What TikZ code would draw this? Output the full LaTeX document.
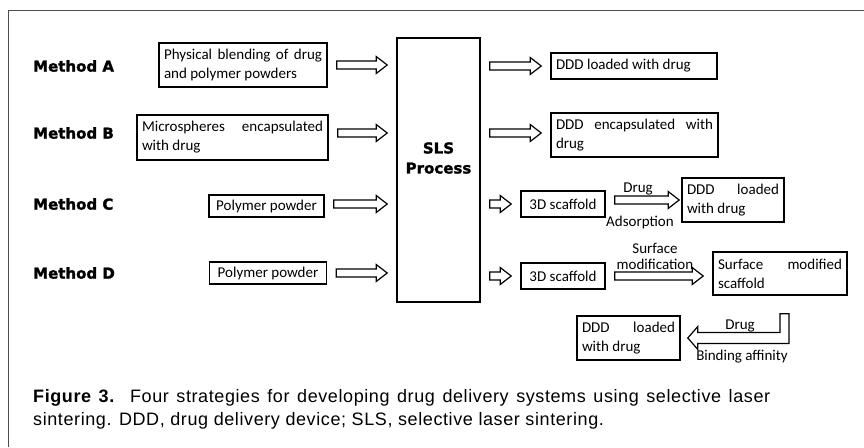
\documentclass[tikz,border=0pt]{standalone}
\usepackage{fontspec}
\setmainfont{Carlito}
\newfontfamily\headfont[BoldFeatures={FakeBold=1.6}]{DejaVu Sans}
\newfontfamily\capfont[LetterSpace=3.3]{Liberation Sans}
\usetikzlibrary{calc,positioning}
\hyphenpenalty=10000
\tolerance=9999
\hbadness=10000
\newcommand{\fat}[4][4]{%
  \draw[hollow] let \p1=#2, \p2=#3, \p3=#4 in
    (\x1+9pt,\y3+#1pt) -- (\x2-20pt,\y3+#1pt) -- (\x2-20pt,\y3+8.5pt) -- (\x2-9pt,\y3)
    -- (\x2-20pt,\y3-8.5pt) -- (\x2-20pt,\y3-#1pt) -- (\x1+9pt,\y3-#1pt) -- cycle;}
\begin{document}
\begin{tikzpicture}[x=1pt,y=-1pt,
        box/.style={draw, line width=1.6pt, inner xsep=5pt, inner ysep=2pt, align=justify,
            font=\fontsize{15}{19}\selectfont},
        onebox/.style={box, align=center, inner xsep=4pt},
        method/.style={anchor=west, inner sep=0pt, font=\headfont\bfseries\fontsize{15}{18}\selectfont},
        hollow/.style={draw, line width=1.2pt, line join=miter},
        tag/.style={font=\fontsize{15}{16}\selectfont, inner sep=1pt},
        ]
        \useasboundingbox (0,0) rectangle (864,447);
        \draw[gray!60!black, line width=0.9pt] (8,447) -- (8,10) -- (864,10);

        \node[method] (mA) at (33,66) {Method A};
        \node[method] (mB) at (33,133) {Method B};
        \node[method] (mC) at (33,204) {Method C};
        \node[method] (mD) at (33,273) {Method D};

        \node[box, text width=158, minimum height=44] (inA) at (243,65) {Physical blending of drug and polymer powders};
        \node[box, text width=181, minimum height=45] (inB) at (232.5,137.5) {Microspheres encapsulated with drug};
        \node[onebox, minimum width=115, minimum height=22] (inC) at (266.5,206) {Polymer powder};
        \node[onebox, minimum width=117, minimum height=22] (inD) at (268,273) {Polymer powder};

        \node[draw, line width=1.6pt, minimum width=83, minimum height=264,
            label={[font=\headfont\bfseries\fontsize{15}{20}\selectfont, align=center, yshift=12]center:SLS\\Process}]
            (sls) at (438.5,170) {};

        \node[box, text width=156, minimum height=26] (outA) at (634,66) {DDD loaded with drug};
        \node[box, text width=157, minimum height=44] (outB) at (634.5,135) {DDD encapsulated with drug};
        \node[onebox, minimum width=84, minimum height=26] (scafC) at (563,204) {3D scaffold};
        \node[box, text width=92, minimum height=44] (dddC) at (733,200) {DDD loaded with drug};
        \node[onebox, minimum width=84, minimum height=26] (scafD) at (563,276) {3D scaffold};
        \node[box, text width=124, minimum height=43] (surf) at (780,273.5) {Surface modified scaffold};
        \node[box, text width=93, minimum height=44] (dddD) at (628.5,338) {DDD loaded with drug};

        \fat{(inA.east)}{(sls.west)}{(inA)}
        \fat{(inB.east)}{(sls.west)}{(mB)}
        \fat{(inC.east)}{(sls.west)}{(mC)}
        \fat{(inD.east)}{(sls.west)}{(inD)}
        \fat{(sls.east)}{(outA.west)}{(outA)}
        \fat{(sls.east)}{(outB.west)}{(mB)}
        \fat{(sls.east)}{(scafC.west)}{(scafC)}
        \fat{(sls.east)}{(scafD.west)}{(scafD)}
        \fat{(scafC.east)}{($(dddC.west)+(7,0)$)}{(dddC)}
        \fat{(scafD.east)}{(surf.west)}{(scafD)}
        \draw[hollow] let \p1=(surf.south), \p2=(dddD.east) in
            (\x1+9pt,\y1-18pt) -- (\x1+9pt,\y2-5.5pt) -- (\x2+17pt,\y2-5.5pt) -- (\x2+17pt,\y2-11.5pt)
            -- (\x2+7pt,\y2) -- (\x2+17pt,\y2+11.5pt) -- (\x2+17pt,\y2+5.5pt) -- (\x1,\y2+5.5pt)
            -- (\x1,\y1-18pt) -- cycle;

        \node[tag] (drugC) at (638,189) {Drug};
        \node[tag] (adsC) at (640,222) {Adsorption};
        \node[tag, align=center] (modD) at (655,256) {Surface\\modification};
        \node[tag] (drugD) at (740,326) {Drug};
        \node[tag] (bindD) at (742,357) {Binding affinity};

        \node[anchor=north west, text width=737, align=justify, inner sep=0pt,
            font=\capfont\fontsize{18}{23}\selectfont] (cap) at (33,389)
            {\textbf{Figure 3.}\ \ Four strategies for developing drug delivery systems using selective laser
             sintering. DDD, drug delivery device; SLS, selective laser sintering.};
\end{tikzpicture}
\end{document}
